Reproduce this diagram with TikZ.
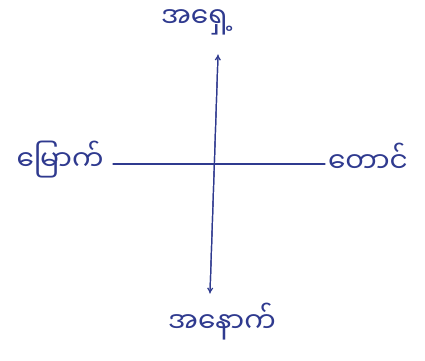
\documentclass[tikz,border=0pt]{standalone}
\usepackage{fontspec}
\newfontfamily\mmfont[Script=Myanmar]{Noto Sans Myanmar UI}
\usetikzlibrary{arrows.meta}
\definecolor{ink}{HTML}{2F3A8F}
\begin{document}
\begin{tikzpicture}[x=1pt,y=-1pt,
  lbl/.style={text=ink,font=\mmfont\fontsize{28}{32}\selectfont,inner sep=1pt},
  axis/.style={draw=ink,line width=1.2pt,line cap=round},
  tip/.style={-{Straight Barb[length=4pt,width=5pt]}}]
\useasboundingbox (0,0) rectangle (425,360);
\fill[white] (0,0) rectangle (425,360);
\node[lbl] (n) at (197,22) {အရှေ့};
\node[lbl] (s) at (222,322) {အနောက်};
\node[lbl] (w) at (60,160) {မြောက်};
\node[lbl] (e) at (368,158) {တောင်};
\coordinate (nt) at (218,55);
\coordinate (sb) at (210,293);
\coordinate (wl) at (113,164);
\coordinate (er) at (325,164);
\draw[axis,tip] (sb) -- (nt);
\draw[axis,tip] (nt) -- (sb);
\draw[axis] (wl) -- (er);
\end{tikzpicture}
\end{document}
